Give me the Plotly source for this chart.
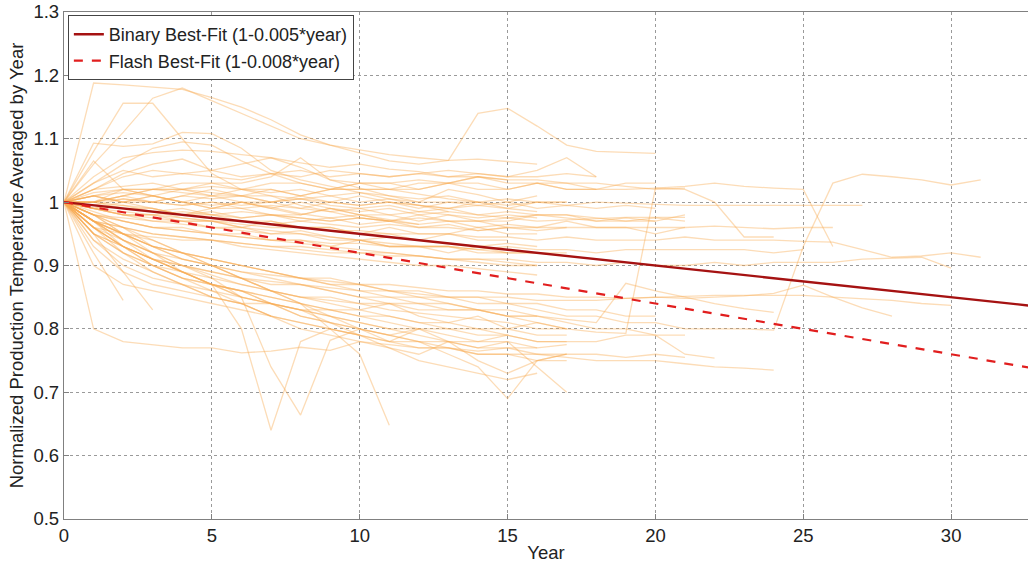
import plotly.graph_objects as go

# ---------------- data (normalized temperature by year, year = list index) ----------------
upper_outliers = [
    [1, 1.188, 1.185, 1.182, 1.178, 1.165, 1.15, 1.13, 1.106, 1.09, 1.077, 1.065, 1.06, 1.066, 1.14, 1.148, 1.12, 1.09, 1.08, 1.078, 1.077],
    [1, 1.06, 1.11, 1.164, 1.18, 1.16, 1.14, 1.12, 1.10, 1.09, 1.082, 1.075, 1.07, 1.066, 1.068, 1.064, 1.06],
    [1, 1.08, 1.156, 1.156, 1.10, 1.045, 1.02, 1.01, 0.995, 0.985, 0.975, 0.97],
    [1, 1.093, 1.088, 1.092, 1.11, 1.108, 1.085, 1.05, 1.035, 1.025, 1.015, 1.005, 0.995, 0.985],
    [1, 1.03, 1.06, 1.085, 1.095, 1.09, 1.065, 1.045, 1.03, 1.02, 1.03, 1.02, 1.012, 1.005, 1.0],
    [1, 1.04, 1.07, 1.078, 1.082, 1.08, 1.075, 1.07, 1.062, 1.055, 1.06, 1.052, 1.048, 1.04, 1.045, 1.04, 1.05, 1.07, 1.04],
    [1, 1.02, 1.045, 1.06, 1.068, 1.05, 1.06, 1.07, 1.055, 1.035, 1.022, 1.01, 1.0, 1.02, 1.012, 1.0, 1.01],
    [1, 1.065, 1.02, 1.01, 1.0, 0.99, 1.0, 0.992, 0.982, 0.975, 0.98, 0.972, 0.965],
    [1, 1.03, 1.05, 1.04, 1.045, 1.04, 1.035, 1.045, 1.04, 1.05, 1.045, 1.04, 1.045, 1.05, 1.045, 1.04, 1.04, 1.045, 1.04],
    [1, 1.0, 1.01, 1.02, 1.02, 1.03, 1.03, 1.04, 1.07, 1.035, 1.03, 1.03, 1.035, 1.03, 1.04, 1.035],
]

core_band = [
    [1, 1.01, 1.02, 1.02, 1.03, 1.03, 1.02, 1.03, 1.03, 1.02, 1.03, 1.03, 1.02, 1.03, 1.03, 1.02, 1.03, 1.03, 1.02, 1.03, 1.03],
    [1, 1.0, 1.01, 1.02, 1.02, 1.01, 1.02, 1.02, 1.01, 1.02, 1.02, 1.02, 1.03, 1.03, 1.04, 1.03, 1.03, 1.02, 1.02],
    [1, 0.99, 1.0, 1.01, 1.0, 1.01, 1.0, 1.0, 1.01, 1.0, 1.01, 1.0, 0.99, 1.0, 1.0, 0.99, 1.0, 1.0],
    [1, 1.0, 0.99, 0.99, 0.98, 0.99, 0.99, 0.98, 0.98, 0.99, 0.98, 0.98, 0.97, 0.98, 0.97, 0.97, 0.98, 0.98, 0.97, 0.97, 0.97, 0.98],
    [1, 0.99, 0.98, 0.98, 0.97, 0.97, 0.96, 0.97, 0.96, 0.96, 0.95, 0.96, 0.95, 0.95, 0.96, 0.95, 0.95],
    [1, 0.98, 0.97, 0.96, 0.96, 0.95, 0.95, 0.94, 0.94, 0.93, 0.94, 0.93, 0.93, 0.92, 0.93, 0.92, 0.92, 0.92],
    [1, 1.01, 1.0, 0.99, 0.98, 0.98, 0.97, 0.97, 0.96, 0.96, 0.95, 0.95, 0.94, 0.95, 0.94, 0.94],
    [1, 1.0, 1.02, 1.01, 1.0, 0.99, 1.0, 0.99, 0.98, 0.99, 0.98, 0.97, 0.98, 0.97, 0.97, 0.96, 0.96, 0.97, 0.96, 0.96, 0.95, 0.96],
    [1, 1.01, 1.015, 1.01, 1.02, 1.015, 1.01, 1.01, 1.005, 1.01, 1.0, 1.005, 1.0, 1.0, 0.995, 1.0, 0.99, 0.995, 0.99, 0.995, 0.99],
    [1, 0.995, 0.99, 0.985, 0.99, 0.98, 0.985, 0.98, 0.975, 0.97, 0.975, 0.97, 0.965, 0.97, 0.96, 0.965, 0.96, 0.96],
    [1, 0.98, 0.975, 0.97, 0.965, 0.96, 0.955, 0.95, 0.955, 0.945, 0.94, 0.945, 0.94, 0.935, 0.93, 0.935, 0.93],
    [1, 1.02, 1.025, 1.03, 1.02, 1.025, 1.02, 1.015, 1.02, 1.01, 1.015, 1.01, 1.005, 1.01, 1.0, 1.005, 1.0, 1.0],
    [1, 1.0, 1.005, 1.0, 0.995, 1.0, 0.99, 0.995, 0.99, 0.985, 0.99, 0.98, 0.985, 0.98, 0.975, 0.98, 0.975],
    [1, 0.99, 0.995, 0.99, 0.98, 0.985, 0.975, 0.98, 0.97, 0.975, 0.965, 0.97, 0.96, 0.965, 0.955, 0.96],
    [1, 1.01, 1.0, 1.01, 1.0, 0.995, 1.0, 0.99, 1.0, 0.99, 0.985, 0.99, 0.98, 0.985, 0.98, 0.975, 0.98, 0.975, 0.97, 0.975, 0.97],
    [1, 0.985, 0.97, 0.96, 0.955, 0.95, 0.945, 0.94, 0.935, 0.93, 0.925, 0.92, 0.915, 0.91, 0.905, 0.9, 0.9],
    [1, 0.97, 0.96, 0.95, 0.945, 0.94, 0.93, 0.925, 0.92, 0.915, 0.91, 0.905, 0.9, 0.9, 0.895, 0.89, 0.885],
    [1, 1.0, 0.995, 0.985, 0.975, 0.97, 0.96, 0.955, 0.95, 0.945, 0.94, 0.935, 0.93, 0.93, 0.925, 0.92, 0.92, 0.915, 0.91],
    [1, 1.015, 1.02, 1.02, 1.015, 1.01, 1.01, 1.0, 1.005, 0.995, 0.99, 0.995, 0.985, 0.99, 0.98, 0.985, 0.98, 0.98, 0.975, 0.97, 0.975, 0.97],
    [1, 0.995, 1.005, 1.0, 1.01, 1.005, 1.01, 1.0, 1.005, 1.0, 0.995, 1.0, 0.995, 0.99, 0.995, 0.99, 0.985],
    [1, 0.96, 0.95, 0.945, 0.94, 0.94, 0.935, 0.93, 0.93, 0.925, 0.92, 0.92, 0.915, 0.91, 0.91, 0.905, 0.9],
    [1, 0.99, 0.98, 0.97, 0.97, 0.96, 0.96, 0.95, 0.95, 0.94, 0.94, 0.93, 0.93, 0.93, 0.92, 0.92],
]

lower_band = [
    [1, 0.96, 0.93, 0.91, 0.9, 0.89, 0.88, 0.87, 0.87, 0.86, 0.85, 0.85, 0.84, 0.84, 0.83, 0.83, 0.82],
    [1, 0.95, 0.92, 0.9, 0.88, 0.87, 0.86, 0.85, 0.84, 0.83, 0.83, 0.82, 0.81, 0.81, 0.8, 0.8, 0.79, 0.79],
    [1, 0.97, 0.94, 0.92, 0.9, 0.885, 0.87, 0.86, 0.85, 0.845, 0.84, 0.83, 0.825, 0.82, 0.815, 0.81, 0.8, 0.8],
    [1, 0.94, 0.9, 0.88, 0.87, 0.86, 0.85, 0.84, 0.83, 0.82, 0.81, 0.8, 0.8, 0.79, 0.78, 0.79, 0.78, 0.78],
    [1, 0.98, 0.95, 0.93, 0.92, 0.9, 0.89, 0.88, 0.87, 0.86, 0.85, 0.84, 0.84, 0.83, 0.83, 0.82, 0.82, 0.81, 0.8, 0.8, 0.79, 0.79],
    [1, 0.93, 0.89, 0.87, 0.86, 0.85, 0.84, 0.84, 0.83, 0.83, 0.82, 0.82, 0.81, 0.8, 0.8, 0.79],
    [1, 0.96, 0.92, 0.89, 0.87, 0.85, 0.84, 0.82, 0.81, 0.8, 0.79, 0.78, 0.78, 0.77, 0.76, 0.76, 0.75, 0.75],
    [1, 0.97, 0.95, 0.94, 0.92, 0.91, 0.9, 0.89, 0.88, 0.88, 0.87, 0.86, 0.86, 0.85, 0.85, 0.84, 0.84, 0.83, 0.83, 0.82, 0.82],
    [1, 0.95, 0.93, 0.91, 0.89, 0.87, 0.86, 0.84, 0.83, 0.81, 0.8, 0.79, 0.8, 0.78, 0.77, 0.78, 0.77],
    [1, 0.98, 0.96, 0.93, 0.91, 0.9, 0.88, 0.86, 0.85, 0.84, 0.83, 0.84, 0.82, 0.81, 0.82, 0.8, 0.81, 0.8],
    [1, 0.92, 0.845],
    [1, 0.95, 0.89, 0.83],
    [1, 0.9, 0.87, 0.86, 0.85, 0.84, 0.83, 0.82],
    [1, 0.80, 0.78, 0.775, 0.77, 0.77, 0.762, 0.765, 0.771, 0.766, 0.78, 0.775, 0.77, 0.77, 0.765, 0.77, 0.77, 0.775],
    [1, 0.97, 0.94, 0.92, 0.89, 0.87, 0.80, 0.64, 0.78, 0.80, 0.79],
    [1, 0.98, 0.95, 0.92, 0.90, 0.88, 0.85, 0.74, 0.664, 0.782, 0.80, 0.78, 0.80],
    [1, 0.97, 0.95, 0.93, 0.91, 0.90, 0.88, 0.86, 0.84, 0.80, 0.76, 0.648],
    [1, 0.98, 0.96, 0.94, 0.92, 0.90, 0.88, 0.86, 0.84, 0.82, 0.80, 0.79, 0.78, 0.76, 0.74, 0.69, 0.75, 0.76],
    [1, 0.97, 0.94, 0.91, 0.89, 0.87, 0.85, 0.84, 0.83, 0.82, 0.81, 0.80, 0.79, 0.78, 0.78, 0.78, 0.74, 0.70],
    [1, 0.96, 0.93, 0.9, 0.88, 0.86, 0.84, 0.82, 0.8, 0.79, 0.78, 0.77, 0.75, 0.74, 0.73, 0.72, 0.73],
    [1, 0.97, 0.93, 0.9, 0.89, 0.87, 0.86, 0.84, 0.82, 0.81, 0.79, 0.77, 0.76, 0.78, 0.75, 0.73, 0.75, 0.76],
]

long_wells = [
    [1, 0.97, 0.95, 0.93, 0.92, 0.91, 0.90, 0.89, 0.88, 0.87, 0.87, 0.86, 0.85, 0.85, 0.84, 0.84, 0.83, 0.82, 0.82, 0.81, 0.81, 0.80, 0.80, 0.80, 0.798, 0.93, 1.03, 1.044, 1.04, 1.035, 1.027, 1.035],
    [1, 1.0, 1.01, 1.0, 1.01, 1.02, 1.01, 1.02, 1.01, 1.02, 1.02, 1.02, 1.02, 1.03, 1.02, 1.02, 1.03, 1.02, 1.02, 1.02, 1.022, 1.025, 1.03, 1.025, 1.022, 1.02, 0.93],
    [1, 1.01, 1.0, 1.0, 0.995, 1.0, 0.995, 1.0, 0.99, 1.0, 0.995, 1.0, 0.995, 0.99, 1.0, 0.995, 1.0, 0.995, 1.0, 0.998, 0.996, 0.995, 0.995, 0.995, 0.995, 0.995, 0.995, 0.995],
    [1, 0.99, 0.98, 0.98, 0.975, 0.97, 0.97, 0.965, 0.97, 0.965, 0.96, 0.965, 0.96, 0.96, 0.955, 0.96, 0.955, 0.96, 0.96, 0.96, 0.96, 0.96, 0.962, 0.96, 0.958, 0.96, 0.96],
    [1, 0.98, 0.97, 0.96, 0.955, 0.95, 0.945, 0.94, 0.94, 0.935, 0.935, 0.93, 0.93, 0.93, 0.925, 0.93, 0.925, 0.925, 0.92, 0.925, 0.925, 0.925, 0.925, 0.925, 0.92, 0.925],
    [1, 0.99, 0.98, 0.975, 0.97, 0.97, 0.965, 0.96, 0.96, 0.955, 0.955, 0.95, 0.95, 0.95, 0.945, 0.945, 0.94, 0.945, 0.94, 0.94, 0.94, 0.945, 0.94, 0.94, 0.94, 0.938, 0.937, 0.925, 0.913, 0.915, 0.92, 0.913],
    [1, 0.97, 0.96, 0.95, 0.945, 0.94, 0.935, 0.93, 0.925, 0.92, 0.92, 0.915, 0.915, 0.91, 0.91, 0.91, 0.905, 0.905, 0.9, 0.905, 0.9, 0.9, 0.905, 0.9, 0.905, 0.905, 0.905, 0.91, 0.912, 0.913, 0.896],
    [1, 0.96, 0.94, 0.92, 0.91, 0.9, 0.89, 0.885, 0.88, 0.875, 0.87, 0.87, 0.865, 0.86, 0.86, 0.855, 0.855, 0.85, 0.85, 0.848, 0.85, 0.848, 0.85, 0.852, 0.856, 0.869, 0.85, 0.833, 0.82],
    [1, 0.95, 0.93, 0.91, 0.9, 0.89, 0.88, 0.875, 0.87, 0.865, 0.86, 0.86, 0.855, 0.85, 0.85, 0.85, 0.845, 0.845, 0.845, 0.848, 0.85, 0.852, 0.853, 0.853, 0.853, 0.853, 0.85, 0.848, 0.845, 0.84, 0.837],
    [1, 0.96, 0.93, 0.91, 0.89, 0.88, 0.87, 0.86, 0.85, 0.85, 0.84, 0.84, 0.83, 0.83, 0.83, 0.82, 0.82, 0.815, 0.81, 0.872, 0.86, 0.85, 0.84, 0.832, 0.826],
    [1, 0.95, 0.92, 0.9, 0.88, 0.87, 0.86, 0.85, 0.84, 0.83, 0.82, 0.81, 0.8, 0.8, 0.79, 0.79, 0.78, 0.78, 0.78, 0.79, 0.79, 0.76, 0.754],
    [1, 0.94, 0.91, 0.89, 0.87, 0.85, 0.84, 0.82, 0.81, 0.8, 0.79, 0.78, 0.77, 0.77, 0.76, 0.76, 0.76, 0.755, 0.75, 0.75, 0.75, 0.745, 0.74, 0.738, 0.735],
    [1, 0.97, 0.95, 0.93, 0.92, 0.91, 0.9, 0.89, 0.88, 0.87, 0.86, 0.85, 0.85, 0.84, 0.83, 0.82, 0.81, 0.80, 0.795, 0.793, 1.022, 1.02, 1.0, 0.945, 0.945],
    [1, 1.02, 1.04, 1.05, 1.045, 1.05, 1.04, 1.045, 1.05, 1.04, 1.045, 1.04, 1.045, 1.04, 1.04, 1.035, 1.035, 1.03, 1.03, 1.025, 1.02, 1.022],
    [1, 0.99, 0.985, 0.98, 0.985, 0.98, 0.975, 0.98, 0.975, 0.97, 0.975, 0.97, 0.975, 0.97, 0.97, 0.975, 0.97, 0.972, 0.975, 0.976, 0.976, 0.976],
    [1, 0.96, 0.93, 0.91, 0.89, 0.87, 0.85, 0.84, 0.82, 0.81, 0.80, 0.79, 0.78, 0.78, 0.77, 0.77, 0.76, 0.76, 0.76, 0.755, 0.76, 0.755],
]

# best-fit lines (endpoints of the fitted straight lines)
fit_years = [0, 33]
binary_fit = [1.0, 0.835]   # 1 - 0.005*year
flash_fit = [1.0, 0.736]    # 1 - 0.008*year

x_ticks = [0, 5, 10, 15, 20, 25, 30]
y_ticks = [0.5, 0.6, 0.7, 0.8, 0.9, 1.0, 1.1, 1.2, 1.3]
y_tick_text = ["0.5", "0.6", "0.7", "0.8", "0.9", "1", "1.1", "1.2", "1.3"]

# ---------------- figure ----------------
fig = go.Figure()

well_color = "rgba(248,172,84,0.42)"
for group in (upper_outliers, core_band, lower_band, long_wells):
    for vals in group:
        fig.add_trace(go.Scatter(
            x=list(range(len(vals))), y=vals, mode="lines",
            line=dict(color=well_color, width=1.3),
            showlegend=False, hoverinfo="skip"))

fig.add_trace(go.Scatter(
    x=fit_years, y=binary_fit, mode="lines",
    name="Binary Best-Fit (1-0.005*year)",
    line=dict(color="rgb(165,18,18)", width=2.4)))
fig.add_trace(go.Scatter(
    x=fit_years, y=flash_fit, mode="lines",
    name="Flash Best-Fit (1-0.008*year)",
    line=dict(color="rgb(225,30,30)", width=2.2, dash="dash")))

axis_common = dict(
    showgrid=True, gridcolor="#9a9a9a", gridwidth=1, griddash="dot",
    showline=True, linecolor="#808080", linewidth=1.3, mirror=True,
    ticks="inside", ticklen=5, tickcolor="#808080",
    zeroline=False, tickfont=dict(size=18.5, color="#222"),
)

fig.update_layout(
    width=1028, height=564,
    margin=dict(l=64, r=0, t=12, b=45),
    plot_bgcolor="white", paper_bgcolor="white",
    font=dict(family="Liberation Sans, Arial, sans-serif", size=18, color="#222"),
    legend=dict(x=0.004, y=0.994, xanchor="left", yanchor="top",
                bgcolor="white", bordercolor="#444", borderwidth=1,
                font=dict(size=18), tracegroupgap=0),
    xaxis=dict(range=[0, 32.6], tickvals=x_ticks,
               title=dict(text="Year", standoff=0, font=dict(size=18.5)),
               **axis_common),
    yaxis=dict(range=[0.5, 1.3], tickvals=y_ticks, ticktext=y_tick_text,
               title=dict(text="Normalized Production Temperature Averaged by Year",
                          standoff=4, font=dict(size=18.5)),
               **axis_common),
)

fig.write_html("out.html")
